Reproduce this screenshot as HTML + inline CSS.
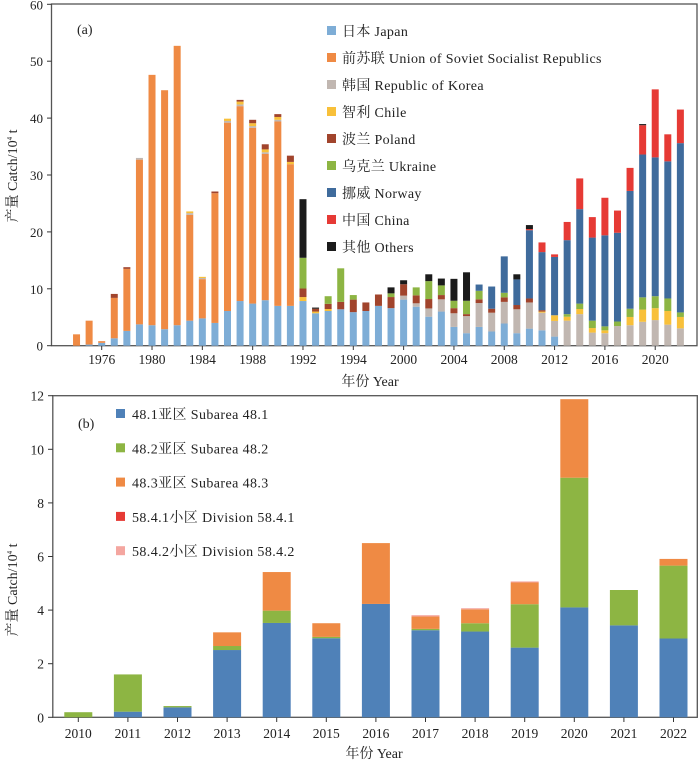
<!DOCTYPE html>
<html><head><meta charset="utf-8"><style>
body{margin:0;background:#fff;}
svg text{font-family:"Liberation Serif","Noto Serif CJK SC",serif;fill:#222;}
</style></head><body>
<svg id="chart" width="700" height="761" xmlns="http://www.w3.org/2000/svg"></svg>
<script>
const yearsA=[1974,1975,1976,1977,1978,1979,1980,1981,1982,1983,1984,1985,1986,1987,1988,1989,1990,1991,1992,1993,1994,1995,1996,1997,1998,1999,2000,2001,2002,2003,2004,2005,2006,2007,2008,2009,2010,2011,2012,2013,2014,2015,2016,2017,2018,2019,2020,2021,2022];
const japan=[0,0.2,0.5,1.3,2.6,3.75,3.6,2.9,3.6,4.4,4.8,4.0,6.1,7.85,7.4,8.0,7.0,7.0,7.85,5.7,6.1,6.4,5.9,6.1,7.0,6.6,8.1,6.85,5.1,6.0,3.3,2.2,3.3,2.5,3.9,2.2,3.0,2.7,1.6,0,0,0,0,0,0,0,0,0,0];
const ussr=[2.0,4.2,0.3,7.1,10.9,28.95,44.0,42.0,49.1,18.6,6.9,22.8,33.1,34.25,30.9,25.7,32.4,24.9,0,0,0,0,0,0,0,0,0,0,0,0,0,0,0,0,0,0,0,0,0,0,0,0,0,0,0,0,0,0,0];
const korea=[0,0,0,0,0,0.3,0,0,0,0.3,0.2,0,0.3,0.3,0.3,0.3,0.3,0,0,0,0,0,0,0,0,0,0.7,0.6,1.45,2.15,2.4,3.0,4.2,3.3,3.8,4.2,4.6,3.1,2.75,4.4,5.55,2.3,2.2,3.45,3.6,4.2,4.5,3.7,3.05];
const chile=[0,0,0,0,0,0,0,0,0,0.3,0.2,0,0.4,0.5,0.5,0.5,0.5,0.4,0.7,0.3,0.35,0,0,0,0,0,0,0,0,0,0,0,0,0,0,0,0,0.2,1.0,0.7,0.9,0.8,0.5,0,1.45,2.15,2.1,2.4,2.0];
const poland=[0,0,0,0.7,0.3,0,0,0,0,0,0,0.3,0,0.3,0.6,0.9,0.5,1.1,1.5,0.5,0.9,1.3,2.2,1.5,2.0,1.95,2.0,1.4,1.65,0.75,0.9,0.35,0.65,0.7,0.8,0.75,0.7,0.25,0,0,0,0,0,0,0,0,0,0,0];
const ukraine=[0,0,0,0,0,0,0,0,0,0,0,0,0,0,0,0,0,0,5.4,0,1.35,5.9,0.8,0,0,0.65,0,1.4,3.15,1.7,1.3,2.35,1.5,0,0.8,0,0,0,0,0.45,0.95,1.3,0.7,0.8,1.45,2.15,2.1,2.2,0.8];
const norway=[0,0,0,0,0,0,0,0,0,0,0,0,0,0,0,0,0,0,0,0,0,0,0,0,0,0,0,0,0,0,0,0,1.1,3.9,6.4,4.5,12.0,10.2,10.25,13.0,16.6,14.6,16.0,15.6,20.7,25.1,24.4,24.1,29.75];
const china=[0,0,0,0,0,0,0,0,0,0,0,0,0,0,0,0,0,0,0,0,0,0,0,0,0,0,0,0,0,0,0,0,0,0,0,0,0.2,1.7,0.45,3.2,5.4,3.6,6.6,3.9,4.05,5.15,11.95,4.75,5.9];
const others=[0,0,0,0,0,0,0,0,0,0,0,0,0,0,0,0,0,0,10.3,0.2,0,0,0,0,0,1.05,0.7,0,1.2,1.2,3.85,5.0,0,0,0,0.9,0.7,0,0,0,0,0,0,0,0,0.2,0,0,0];
const tickYearsA=[1976,1980,1984,1988,1992,1996,2000,2004,2008,2012,2016,2020];
const tickLabelsA=["1976","1980","1984","1988","1992","1994","2000","2004","2008","2012","2016","2020"];
const yTicksA=[0,10,20,30,40,50,60];
const seriesA=[["日本 Japan",japan,"#7eadd6"],["前苏联 Union of Soviet Socialist Republics",ussr,"#ef8a44"],["韩国 Republic of Korea",korea,"#c1b7b1"],["智利 Chile",chile,"#f8c03a"],["波兰 Poland",poland,"#a1442c"],["乌克兰 Ukraine",ukraine,"#8db543"],["挪威 Norway",norway,"#3f6b9c"],["中国 China",china,"#e63a35"],["其他 Others",others,"#1b1b1b"]];

const yearsB=[2010,2011,2012,2013,2014,2015,2016,2017,2018,2019,2020,2021,2022];
const s481=[0,0.21,0.37,2.51,3.52,2.95,4.23,3.25,3.2,2.6,4.1,3.43,2.94];
const s482=[0.19,1.39,0.05,0.15,0.46,0.05,0,0.05,0.31,1.62,4.84,1.32,2.72];
const s483=[0,0,0,0.51,1.44,0.51,2.27,0.46,0.52,0.81,2.93,0,0.25];
const s5841=[0,0,0,0,0,0,0,0,0,0,0,0,0];
const s5842=[0,0,0,0,0,0,0,0.05,0.04,0.04,0,0,0];
const yTicksB=[0,2,4,6,8,10,12];
const seriesB=[["48.1亚区 Subarea 48.1",s481,"#4f81b8"],["48.2亚区 Subarea 48.2",s482,"#8db543"],["48.3亚区 Subarea 48.3",s483,"#ef8a44"],["58.4.1小区 Division 58.4.1",s5841,"#e63a35"],["58.4.2小区 Division 58.4.2",s5842,"#f4a6a0"]];

const svg=document.getElementById('chart');
const NS="http://www.w3.org/2000/svg";
function mk(tag,attrs,parent){const e=document.createElementNS(NS,tag);for(const k in attrs)e.setAttribute(k,attrs[k]);(parent||svg).appendChild(e);return e;}

const xA=y=>101.7+(y-1976)*12.58;
const yA=v=>345.7-v*5.69;
const gA=mk('g',{});


mk('rect',{x:51.5,y:4,width:645.5,height:341.7,fill:'none',stroke:'#555','stroke-width':1.3},gA);
yTicksA.forEach(t=>{
  mk('line',{x1:47,x2:51.5,y1:yA(t),y2:yA(t),stroke:'#333'},gA);
  const tx=mk('text',{x:43,y:yA(t)+5,'text-anchor':'end','font-size':13},gA);tx.textContent=t;
  
  
});
tickYearsA.forEach((yr,i)=>{
  mk('line',{x1:xA(yr),x2:xA(yr),y1:345.7,y2:350,stroke:'#333'},gA);
  const tx=mk('text',{x:xA(yr),y:364,'text-anchor':'middle','font-size':13.5},gA);tx.textContent=tickLabelsA[i];
  
  
});
yearsA.forEach((yr,i)=>{
  let acc=0;
  seriesA.forEach(s=>{
    const v=s[1][i]; if(v<=0)return;
    const r=mk('rect',{x:xA(yr)-3.5,y:yA(acc+v),width:7,height:v*5.69,fill:s[2]},gA);
    
    
    acc+=v;
  });
});
seriesA.forEach((s,i)=>{
  const y=31+i*27;
  const r=mk('rect',{x:327,y:y-5,width:9,height:9,fill:s[2]},gA);
  
  
  const t=mk('text',{x:342,y:y+5,'font-size':14,'letter-spacing':0.35},gA);t.textContent=s[0];
  
  
});
let t=mk('text',{x:77,y:34,'font-size':14},gA);t.textContent='(a)';


t=mk('text',{x:370,y:386,'text-anchor':'middle','font-size':14},gA);t.textContent='年份 Year';


t=mk('text',{x:0,y:0,'text-anchor':'middle','font-size':14,transform:'translate(17,176) rotate(-90)'},gA);t.innerHTML='产量 Catch/10<tspan font-size="7" dy="-5">4</tspan><tspan dy="5"> t</tspan>';



const xB=y=>78.3+(y-2010)*49.6;
const yB=v=>717.3-v*26.8;
const gB=mk('g',{});


mk('rect',{x:52.8,y:395.7,width:644.5,height:321.6,fill:'none',stroke:'#555','stroke-width':1.3},gB);
yTicksB.forEach(tk=>{
  mk('line',{x1:48,x2:52.8,y1:yB(tk),y2:yB(tk),stroke:'#333'},gB);
  const tx=mk('text',{x:44,y:yB(tk)+5,'text-anchor':'end','font-size':13.5},gB);tx.textContent=tk;
  
  
});
yearsB.forEach((yr,i)=>{
  mk('line',{x1:xB(yr),x2:xB(yr),y1:717.3,y2:722,stroke:'#333'},gB);
  const tx=mk('text',{x:xB(yr),y:738,'text-anchor':'middle','font-size':13.5},gB);tx.textContent=yr;
  
  
  let acc=0;
  seriesB.forEach(s=>{
    const v=s[1][i]; if(v<=0)return;
    const r=mk('rect',{x:xB(yr)-14,y:yB(acc+v),width:28,height:v*26.8,fill:s[2]},gB);
    
    
    acc+=v;
  });
});
seriesB.forEach((s,i)=>{
  const y=414+i*34.3;
  const r=mk('rect',{x:116,y:y-5,width:9,height:9,fill:s[2]},gB);
  
  
  const tx=mk('text',{x:132,y:y+5,'font-size':14,'letter-spacing':0.4},gB);tx.textContent=s[0];
  
  
});
t=mk('text',{x:78,y:428,'font-size':14},gB);t.textContent='(b)';


t=mk('text',{x:374,y:758,'text-anchor':'middle','font-size':14},gB);t.textContent='年份 Year';


t=mk('text',{x:0,y:0,'text-anchor':'middle','font-size':14,transform:'translate(17,590) rotate(-90)'},gB);t.innerHTML='产量 Catch/10<tspan font-size="7" dy="-5">4</tspan><tspan dy="5"> t</tspan>';


</script>
</body></html>
